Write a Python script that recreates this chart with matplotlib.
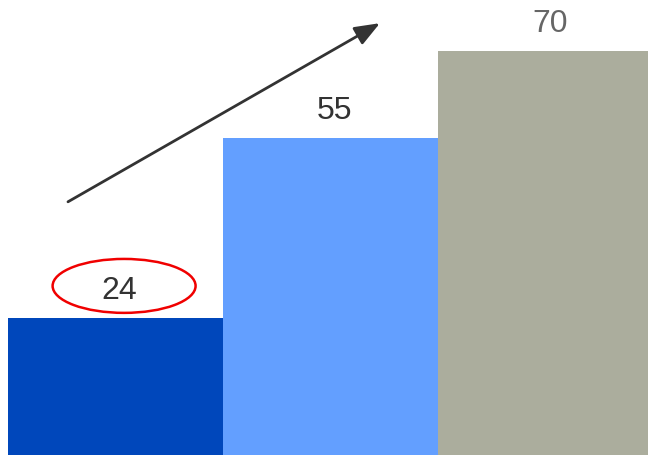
import matplotlib
matplotlib.use("Agg")
import matplotlib.pyplot as plt
from matplotlib.patches import Ellipse

plt.rcParams["font.family"] = ["Liberation Sans", "DejaVu Sans"]

categories = ["A", "B", "C"]
values = [24, 55, 70]
bar_colors = ["#0047bb", "#639fff", "#abad9d"]
label_colors = ["#333333", "#333333", "#666666"]

fig = plt.figure(figsize=(6.48, 4.55), dpi=100)
# bars run edge to edge, baseline just below the bottom of the canvas
ax = fig.add_axes([8 / 648, -2 / 455, 645 / 648, 457 / 455])
x = range(len(categories))
ax.bar(x, values, width=1.0, color=bar_colors, linewidth=0)
ax.set_xlim(-0.5, len(categories) - 0.5)
ax.set_ylim(0, 457 / 5.8)
ax.axis("off")

for i, v in enumerate(values):
    ax.annotate(str(v), (i, v), xytext=(3, 19.5), textcoords="offset points",
                ha="center", va="center", fontsize=23, color=label_colors[i])

# highlight around the first label
ax.add_patch(Ellipse((0.04, values[0] + 5.5), 0.665, 9.3, fill=False,
                     edgecolor="#f00000", linewidth=1.8))

# trend arrow
ax.annotate("", xy=(1.23, 74.8), xytext=(-0.221, 44.0),
            arrowprops=dict(arrowstyle="-|>,head_length=0.9,head_width=0.35",
                            color="#333333", lw=2, mutation_scale=17,
                            shrinkA=0, shrinkB=0))

fig.savefig("out.png", dpi=100)
